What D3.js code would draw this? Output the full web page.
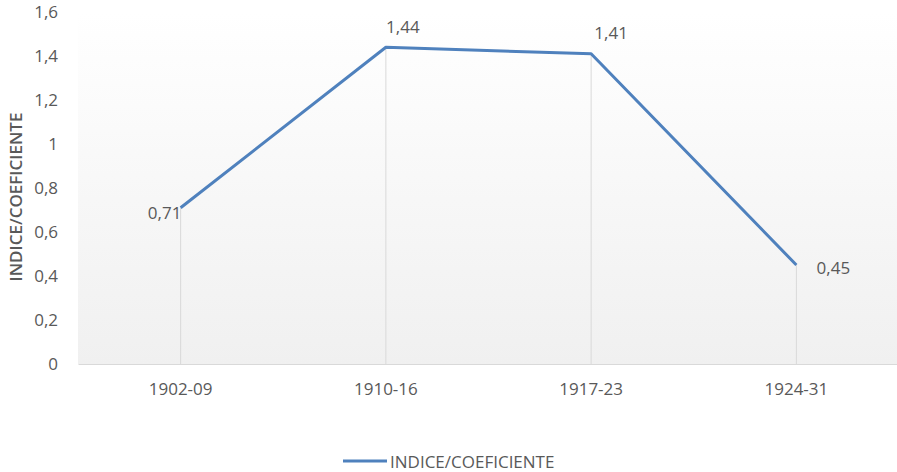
<!DOCTYPE html>
<html>
<head>
<meta charset="utf-8">
<script src="https://cdn.jsdelivr.net/npm/d3@7"></script>
<style>
  body { margin: 0; background: #fff; }
  text { font-family: "Open Sans", sans-serif; fill: #595959; }
</style>
</head>
<body>
<div id="chart"></div>
<script>
var periods = ["1902-09", "1910-16", "1917-23", "1924-31"];
var indice = [0.71, 1.44, 1.41, 0.45];
var yTicks = [0, 0.2, 0.4, 0.6, 0.8, 1, 1.2, 1.4, 1.6];
var seriesName = "INDICE/COEFICIENTE";
// label offsets (Excel placed them a bit around each point)
var labelOffsets = [[-16, 5], [17, -21], [20, -21], [37, 2]];

var width = 897, height = 472;
var margin = {top: 12, right: -2, bottom: 108, left: 78};
var w = width - margin.left - margin.right,
    h = height - margin.top - margin.bottom;

var fmt = d => String(d).replace(".", ",");

var svg = d3.select("#chart").append("svg")
    .attr("width", width)
    .attr("height", height);

var defs = svg.append("defs");
var grad = defs.append("linearGradient")
    .attr("id", "bg")
    .attr("x1", 0).attr("y1", 0).attr("x2", 0).attr("y2", 1);
grad.append("stop").attr("offset", "0%").attr("stop-color", "#ffffff");
grad.append("stop").attr("offset", "100%").attr("stop-color", "#f0f0f0");

var g = svg.append("g")
    .attr("transform", "translate(" + margin.left + "," + margin.top + ")");

var x = d3.scaleBand().domain(periods).range([0, w]);
var y = d3.scaleLinear().domain([0, 1.6]).range([h, 0]);

g.append("rect")
    .attr("width", w)
    .attr("height", h)
    .attr("fill", "url(#bg)");

// drop lines
g.selectAll(".drop")
    .data(indice)
    .enter().append("line")
    .attr("class", "drop")
    .attr("x1", (d, i) => x(periods[i]) + x.bandwidth() / 2)
    .attr("x2", (d, i) => x(periods[i]) + x.bandwidth() / 2)
    .attr("y1", d => y(d))
    .attr("y2", h)
    .style("stroke", "#d9d9d9")
    .style("stroke-width", 1);

// x axis
var xAxis = g.append("g")
    .attr("transform", "translate(0," + h + ")")
    .call(d3.axisBottom(x).tickSize(0).tickPadding(19));
xAxis.select(".domain").style("stroke", "#d9d9d9");
xAxis.selectAll("text")
    .style("font-family", "'Open Sans', sans-serif")
    .style("font-size", "17px").style("fill", "#595959");

// y axis
var yAxis = g.append("g")
    .call(d3.axisLeft(y).tickValues(yTicks).tickSize(0).tickPadding(20).tickFormat(fmt));
yAxis.select(".domain").remove();
yAxis.selectAll("text")
    .style("font-family", "'Open Sans', sans-serif")
    .style("font-size", "17px").style("fill", "#595959");

var line = d3.line()
    .x((d, i) => x(periods[i]) + x.bandwidth() / 2)
    .y(d => y(d));

g.append("path")
    .datum(indice)
    .attr("d", line)
    .style("fill", "none")
    .style("stroke", "#4f81bd")
    .style("stroke-width", 3)
    .style("stroke-linejoin", "round");

g.selectAll(".label")
    .data(indice)
    .enter().append("text")
    .attr("class", "label")
    .attr("x", (d, i) => x(periods[i]) + x.bandwidth() / 2 + labelOffsets[i][0])
    .attr("y", (d, i) => y(d) + labelOffsets[i][1])
    .attr("text-anchor", "middle")
    .attr("dominant-baseline", "central")
    .style("font-size", "17px")
    .text(fmt);

// axis title
svg.append("text")
    .attr("transform", "translate(15,197) rotate(-90)")
    .attr("text-anchor", "middle")
    .attr("dominant-baseline", "central")
    .style("font-size", "17px")
    .style("font-weight", "600")
    .text(seriesName);

// legend
var legend = svg.append("g").attr("transform", "translate(343,461)");
legend.append("line")
    .attr("x1", 0).attr("x2", 44)
    .style("stroke", "#4f81bd")
    .style("stroke-width", 3);
legend.append("text")
    .attr("x", 47)
    .attr("dominant-baseline", "central")
    .style("font-size", "17px")
    .text(seriesName);
</script>
</body>
</html>
